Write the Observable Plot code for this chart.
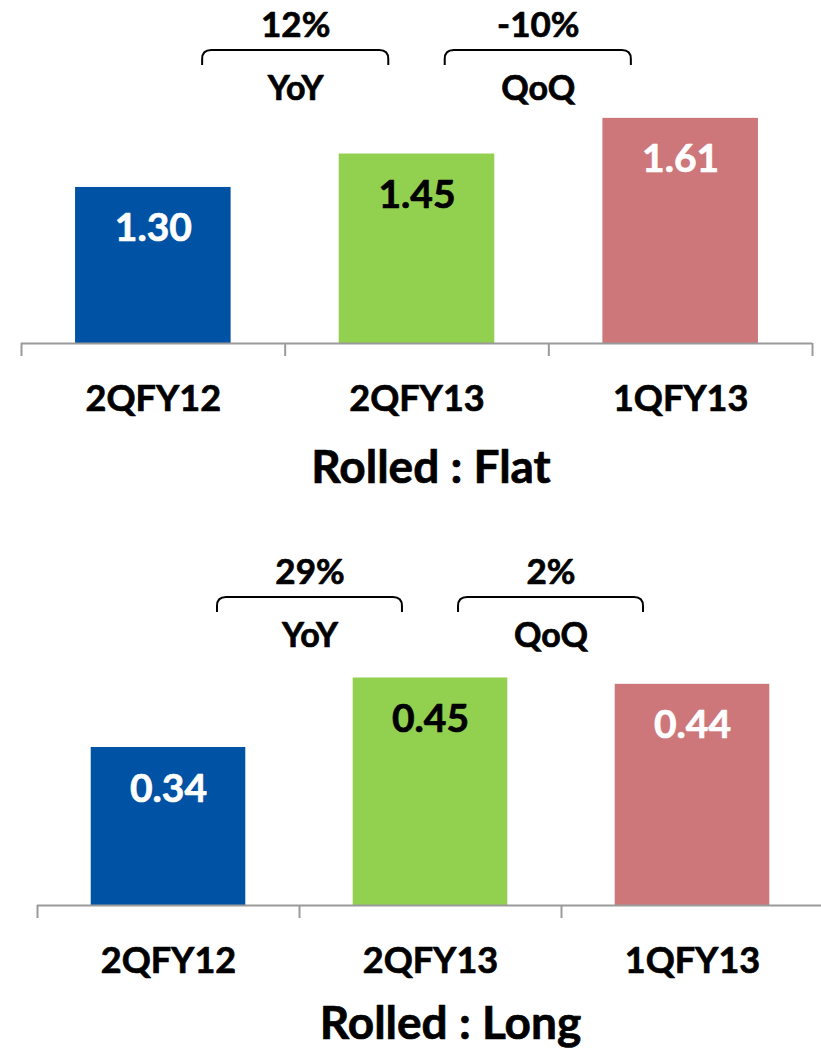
<!DOCTYPE html>
<html>
<head>
<meta charset="utf-8">
<script src="https://cdn.jsdelivr.net/npm/d3@7"></script>
<script src="https://cdn.jsdelivr.net/npm/@observablehq/plot@0.6"></script>
<style>
  html, body { margin: 0; padding: 0; background: #fff; }
  svg { display: block; }
</style>
</head>
<body>
<div id="chart"></div>
<script>
// ---- data ----
const categories = ["2QFY12", "2QFY13", "1QFY13"];
const flatValues = [1.30, 1.45, 1.61];
const longValues = [0.34, 0.45, 0.44];
const changeLabels = ["YoY", "QoQ"];
const comparedWith = [0, 2];        // index of category compared against 2QFY13
const flatChanges = ["12%", "-10%"];
const longChanges = ["29%", "2%"];
const panelTitles = ["Rolled : Flat", "Rolled : Long"];

// ---- styles ----
const barColors = ["#0052A4", "#92D050", "#CD777A"];
const labelColors = ["#ffffff", "#000000", "#ffffff"];
const axisColor = "#9a9a9a";
const target = 1;
const thick = 0.7;

function panel({values, changes, title, height, xRange, yDomain, yRange, bracketY, titleDx, titleDy}) {
  const n = categories.length;
  const data = categories.map((c, i) => ({c, i, v: values[i]}));
  const brackets = changeLabels.map((label, k) => ({
    label, change: changes[k],
    center: target + 0.5 + 0.46 * (comparedWith[k] - target)
  }));
  const axisY = yRange[0];
  const bracketPath = (index, scales) => {
    const g = d3.create("svg:g");
    for (const b of brackets) {
      const cx = scales.x(b.center);
      const hw = scales.x(b.center + 0.353) - cx;
      const y = bracketY, h = 15, r = 9;
      g.append("path")
        .attr("d", `M${cx - hw},${y + h} L${cx - hw},${y + r} Q${cx - hw},${y} ${cx - hw + r},${y} L${cx + hw - r},${y} Q${cx + hw},${y} ${cx + hw},${y + r} L${cx + hw},${y + h}`)
        .attr("fill", "none")
        .attr("stroke", "#000")
        .attr("stroke-width", 2);
    }
    return g.node();
  };
  const txt = {fontWeight: "bold", lineAnchor: "bottom", strokeWidth: thick};
  return Plot.plot({
    width: 821,
    height,
    marginTop: 0,
    marginLeft: xRange[0],
    marginRight: 821 - xRange[1],
    marginBottom: height - axisY,
    x: {type: "linear", domain: [0, n], range: xRange, axis: null},
    y: {domain: yDomain, range: yRange, axis: null},
    color: {type: "identity"},
    style: {fontFamily: "Lato, 'Open Sans', sans-serif", fontWeight: "bold", background: "#fff", overflow: "visible"},
    marks: [
      Plot.rectY(data, {x1: d => d.i + 0.205, x2: d => d.i + 0.795, y1: yDomain[0], y2: "v", fill: d => barColors[d.i]}),
      Plot.ruleY([yDomain[0]], {stroke: axisColor, strokeWidth: 2}),
      Plot.ruleX(d3.range(n + 1), {x: d => d, insetTop: axisY, insetBottom: -13, stroke: axisColor, strokeWidth: 2}),
      Plot.text(data, {...txt, x: d => d.i + 0.5, y: "v", text: d => d.v.toFixed(2), dy: 54, fontSize: 39, fill: d => labelColors[d.i], stroke: d => labelColors[d.i]}),
      Plot.text(data, {...txt, x: d => d.i + 0.5, y: yDomain[0], text: "c", dy: 67, fontSize: 36, fill: "#000", stroke: "#000"}),
      Plot.text([title], {...txt, x: n / 2, y: yDomain[0], text: d => d, dx: titleDx, dy: titleDy, fontSize: 46, fill: "#000", stroke: "#000"}),
      Plot.text(brackets, {...txt, x: "center", frameAnchor: "top", dy: bracketY - 14, text: "change", fontSize: 35, fill: "#000", stroke: "#000"}),
      Plot.text(brackets, {...txt, x: "center", frameAnchor: "top", dy: bracketY + 49, text: "label", fontSize: 34, fill: "#000", stroke: "#000"}),
      bracketPath
    ]
  });
}

const root = document.getElementById("chart");
root.appendChild(panel({
  values: flatValues, changes: flatChanges, title: panelTitles[0],
  height: 521, xRange: [21, 812], yDomain: [0.6, 1.8], yRange: [343, 75.5],
  bracketY: 50, titleDx: 14, titleDy: 139
}));
root.appendChild(panel({
  values: longValues, changes: longChanges, title: panelTitles[1],
  height: 531, xRange: [37, 823], yDomain: [0.09, 0.5], yRange: [384, 124.9],
  bracketY: 76, titleDx: 20, titleDy: 133
}));
</script>
</body>
</html>
